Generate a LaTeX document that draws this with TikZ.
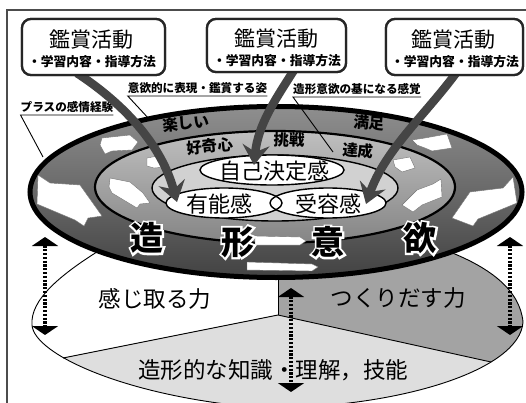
\documentclass[tikz,border=0pt]{standalone}
\usepackage{fontspec}
\newfontfamily\jp{Noto Sans CJK JP}
\newfontfamily\jpHalo[FakeBold=12]{Noto Sans CJK JP}
\usetikzlibrary{arrows.meta,shapes.geometric}
\definecolor{outerTop}{gray}{0.56}
\definecolor{outerMid}{gray}{0.34}
\definecolor{outerBot}{gray}{0.26}
\definecolor{midTop}{gray}{0.75}
\definecolor{midMid}{gray}{0.61}
\definecolor{midBot}{gray}{0.52}
\definecolor{innerFill}{gray}{0.82}
\definecolor{lowGray}{gray}{0.64}
\definecolor{lowLight}{gray}{0.87}
\definecolor{arrowDark}{gray}{0.27}
\begin{document}
\begin{tikzpicture}[x=1pt,y=-1pt,font=\jp,
  boxst/.style={draw=black!85,line width=2.3pt,rounded corners=9pt,fill=white,inner sep=0pt},
  boxtitle/.style={font=\jp\fontsize{21}{21}\selectfont,inner sep=0pt},
  boxsub/.style={font=\jp\bfseries\fontsize{12.8}{13}\selectfont,inner sep=0pt},
  bigarrow/.style={draw=arrowDark,line width=8.5pt,-{Stealth[length=20pt,width=27pt,inset=7pt]}},
  warrow/.style={fill=white,draw=black!55,line width=0.4pt},
  dotarrow/.style={line width=3.2pt,dash pattern=on 2.2pt off 1.6pt,{Triangle[width=26pt,length=9pt]}-{Triangle[width=26pt,length=9pt]}},
  ringlabel/.style={font=\jp\bfseries\fontsize{15.5}{16}\selectfont,inner sep=0pt},
  centerlabel/.style={font=\jp\fontsize{22}{22}\selectfont,inner sep=0pt},
  lowlabel/.style={font=\jp\fontsize{22.5}{23}\selectfont,inner sep=0pt},
  zk/.style={font=\jp\bfseries\fontsize{33}{33}\selectfont,inner sep=0pt},
  zkhalo/.style={font=\jpHalo\bfseries\fontsize{33}{33}\selectfont,inner sep=0pt,text=white},
  callout/.style={font=\jp\bfseries\fontsize{11.6}{12}\selectfont,inner xsep=0pt,inner ysep=2.2pt},
  uline/.style={line width=0.9pt},
  thinline/.style={line width=0.9pt}
]
\useasboundingbox (0,0) rectangle (526,403);
\fill[white] (0,0) rectangle (526,403);

% ---------- lower part ----------
\begin{scope}
\clip (100,250) .. controls (60,275) and (30,300) .. (32,325)
  .. controls (34,355) and (130,398) .. (265,408)
  .. controls (400,408) and (520,370) .. (523,322)
  .. controls (520,290) and (490,268) .. (450,252) -- cycle;
\fill[lowLight] (-10,358) -- (63,358) -- (278,315) -- (491,362) -- (600,362) -- (600,430) -- (-10,430) -- cycle;
\fill[lowGray] (278,230) -- (278,315) -- (491,362) -- (600,362) -- (600,230) -- cycle;
\end{scope}
\draw[thinline] (100,250) .. controls (60,275) and (30,300) .. (32,325)
  .. controls (34,355) and (130,398) .. (265,408)
  .. controls (400,408) and (520,370) .. (523,322)
  .. controls (520,290) and (490,268) .. (450,252);
\coordinate (lamL) at (63,358);
\coordinate (lamP) at (278,315);
\coordinate (lamR) at (491,362);
\coordinate (vtop) at (278,268);
\draw[thinline] (lamL) -- (lamP) -- (lamR);
\draw[thinline] (vtop) -- (lamP);

\node[lowlabel] (kanji) at (155,299) {感じ取る力};
\node[lowlabel] (tsukuri) at (398,298) {つくりだす力};
\node[lowlabel] (chishiki) at (273,370) {造形的な知識・理解，技能};

% ---------- disc ----------
\shade[top color=outerTop,middle color=outerMid,bottom color=outerBot] (276,192) ellipse [x radius=246,y radius=85.5];
\draw[line width=5pt] (276,192) ellipse [x radius=246,y radius=85.5];
\shade[top color=midTop,middle color=midMid,bottom color=midBot] (275,187) ellipse [x radius=180,y radius=56];
\draw[line width=2.2pt] (275,187) ellipse [x radius=180,y radius=56];
\fill[innerFill] (275,188) ellipse [x radius=123,y radius=33];
\draw[line width=1.4pt] (275,188) ellipse [x radius=123,y radius=33];

% white ellipses
\fill[white] (272,170) ellipse [x radius=72,y radius=15];
\fill[white] (224,203) ellipse [x radius=58,y radius=15];
\fill[white] (328,203) ellipse [x radius=58,y radius=15];
\draw[line width=1.4pt] (272,170) ellipse [x radius=72,y radius=15];
\draw[line width=1.4pt] (224,203) ellipse [x radius=58,y radius=15];
\draw[line width=1.4pt] (328,203) ellipse [x radius=58,y radius=15];
\node[centerlabel] (jiko) at (274,171) {自己決定感};
\node[centerlabel] (yuno) at (219,204) {有能感};
\node[centerlabel] (juyo) at (328,204) {受容感};

% white ring arrows (outer ring)
\filldraw[warrow] (38,175) -- (50,183) -- (80,185) -- (102,216) -- (88,218) -- (84,226) -- (75,220) -- (37,204) -- cycle;
\filldraw[warrow] (102,138) -- (130,135) -- (138,142) -- (132,150) -- (112,151) -- (105,154) -- (100,145) -- cycle;
\filldraw[warrow] (412,140) -- (425,138) -- (447,134) -- (452,148) -- (432,151) -- (425,148) -- (417,145) -- cycle;
\filldraw[warrow] (470,192) -- (503,188) -- (513,177) -- (517,203) -- (478,219) -- (473,226) -- (452,218) -- cycle;
% white ring arrows (middle ring)
\filldraw[warrow] (110,178) -- (130,182) -- (143,193) -- (150,203) -- (140,204) -- (137,208) -- (112,193) -- (109,187) -- cycle;
\filldraw[warrow] (147,158) -- (158,156) -- (167,167) -- (154,168) -- (147,166) -- cycle;
\filldraw[warrow] (393,160) -- (410,157) -- (415,168) -- (402,172) -- (395,167) -- cycle;
\filldraw[warrow] (402,205) -- (417,190) -- (433,184) -- (441,179) -- (442,197) -- (422,205) -- (413,212) -- cycle;
% bottom bars
\filldraw[warrow] (255,236) -- (300,237) -- (306,241) -- (300,245) -- (255,245) -- cycle;
\filldraw[warrow] (247,262) -- (312,264) -- (318,267) -- (312,271) -- (247,270) -- cycle;

% ring labels
\node[ringlabel,rotate=6] (tanoshii) at (186,123) {楽しい};
\node[ringlabel,rotate=-5] (manzoku) at (369,123) {満足};
\node[ringlabel,rotate=6] (kokishin) at (210,146) {好奇心};
\node[ringlabel,rotate=-2] (chosen) at (289,140) {挑戦};
\node[ringlabel,rotate=-4] (tassei) at (358,151) {達成};

% ---------- callout labels ----------
\node[callout] (lab1) at (197.5,88) {意欲的に表現・鑑賞する姿};
\node[callout] (lab2) at (357,89) {造形意欲の基になる感覚};
\node[callout] (lab3) at (67,107) {プラスの感情経験};
\coordinate (l1e) at (150,120);
\coordinate (l2e) at (333,152);
\coordinate (l3e) at (43,157);
\draw[uline] (l1e) -- (lab1.south west) -- (lab1.south east);
\draw[uline] (l2e) -- (lab2.south west) -- (lab2.south east);
\draw[uline] (l3e) -- (lab3.south west) -- (lab3.south east);

% ---------- boxes ----------
\node[boxst,minimum width=143pt,minimum height=56pt] (box1) at (93.5,47) {};
\node[boxst,minimum width=139pt,minimum height=53pt] (box2) at (276.5,45.5) {};
\node[boxst,minimum width=137pt,minimum height=56pt] (box3) at (454.5,47) {};

% ---------- big arrows ----------
\coordinate (a1s) at ([xshift=-16.5pt,yshift=3pt]box1.south);
\coordinate (a1e) at (177,202);
\coordinate (a2s) at ([xshift=17.5pt,yshift=3pt]box2.south);
\coordinate (a2e) at (254,165);
\coordinate (a3s) at ([xshift=1.5pt,yshift=3pt]box3.south);
\coordinate (a3e) at (366,204);
\draw[bigarrow] (a1s) .. controls (118,100) and (160,140) .. (a1e);
\draw[bigarrow] (a2s) .. controls (275,100) and (258,125) .. (a2e);
\draw[bigarrow] (a3s) .. controls (425,115) and (385,150) .. (a3e);

% redraw box outlines on top of the arrow ends
\node[boxst,minimum width=143pt,minimum height=56pt] (box1b) at (box1) {};
\node[boxst,minimum width=139pt,minimum height=53pt] (box2b) at (box2) {};
\node[boxst,minimum width=137pt,minimum height=56pt] (box3b) at (box3) {};
\node[boxtitle] (b1t) at (91,40) {鑑賞活動};
\node[boxsub] (b1s) at (92,62) {・学習内容・指導方法};
\node[boxtitle] (b2t) at (276,39) {鑑賞活動};
\node[boxsub] (b2s) at (277,61) {・学習内容・指導方法};
\node[boxtitle] (b3t) at (453,40) {鑑賞活動};
\node[boxsub] (b3s) at (455,62) {・学習内容・指導方法};

% ---------- 造形意欲 (black with white halo) ----------
\node[zkhalo] (zoH) at (147,238) {造};
\node[zkhalo] (keiH) at (238,242) {形};
\node[zkhalo] (iiH) at (328,242) {意};
\node[zkhalo] (yokuH) at (420,238) {欲};
\node[zk] (zo) at (zoH) {造};
\node[zk] (kei) at (keiH) {形};
\node[zk] (ii) at (iiH) {意};
\node[zk] (yoku) at (yokuH) {欲};

% ---------- dotted double arrows ----------
\coordinate (d1t) at (45,237);
\coordinate (d1b) at (45,335);
\coordinate (d2t) at (291,288);
\coordinate (d2b) at (291,392);
\coordinate (d3t) at (510,237);
\coordinate (d3b) at (510,335);
\draw[dotarrow] (d1t) -- (d1b);
\draw[dotarrow] (d2t) -- (d2b);
\draw[dotarrow] (d3t) -- (d3b);

% ---------- frame ----------
\draw[black!70,line width=1.3pt] (7,10) rectangle (560,430);
\end{tikzpicture}
\end{document}
